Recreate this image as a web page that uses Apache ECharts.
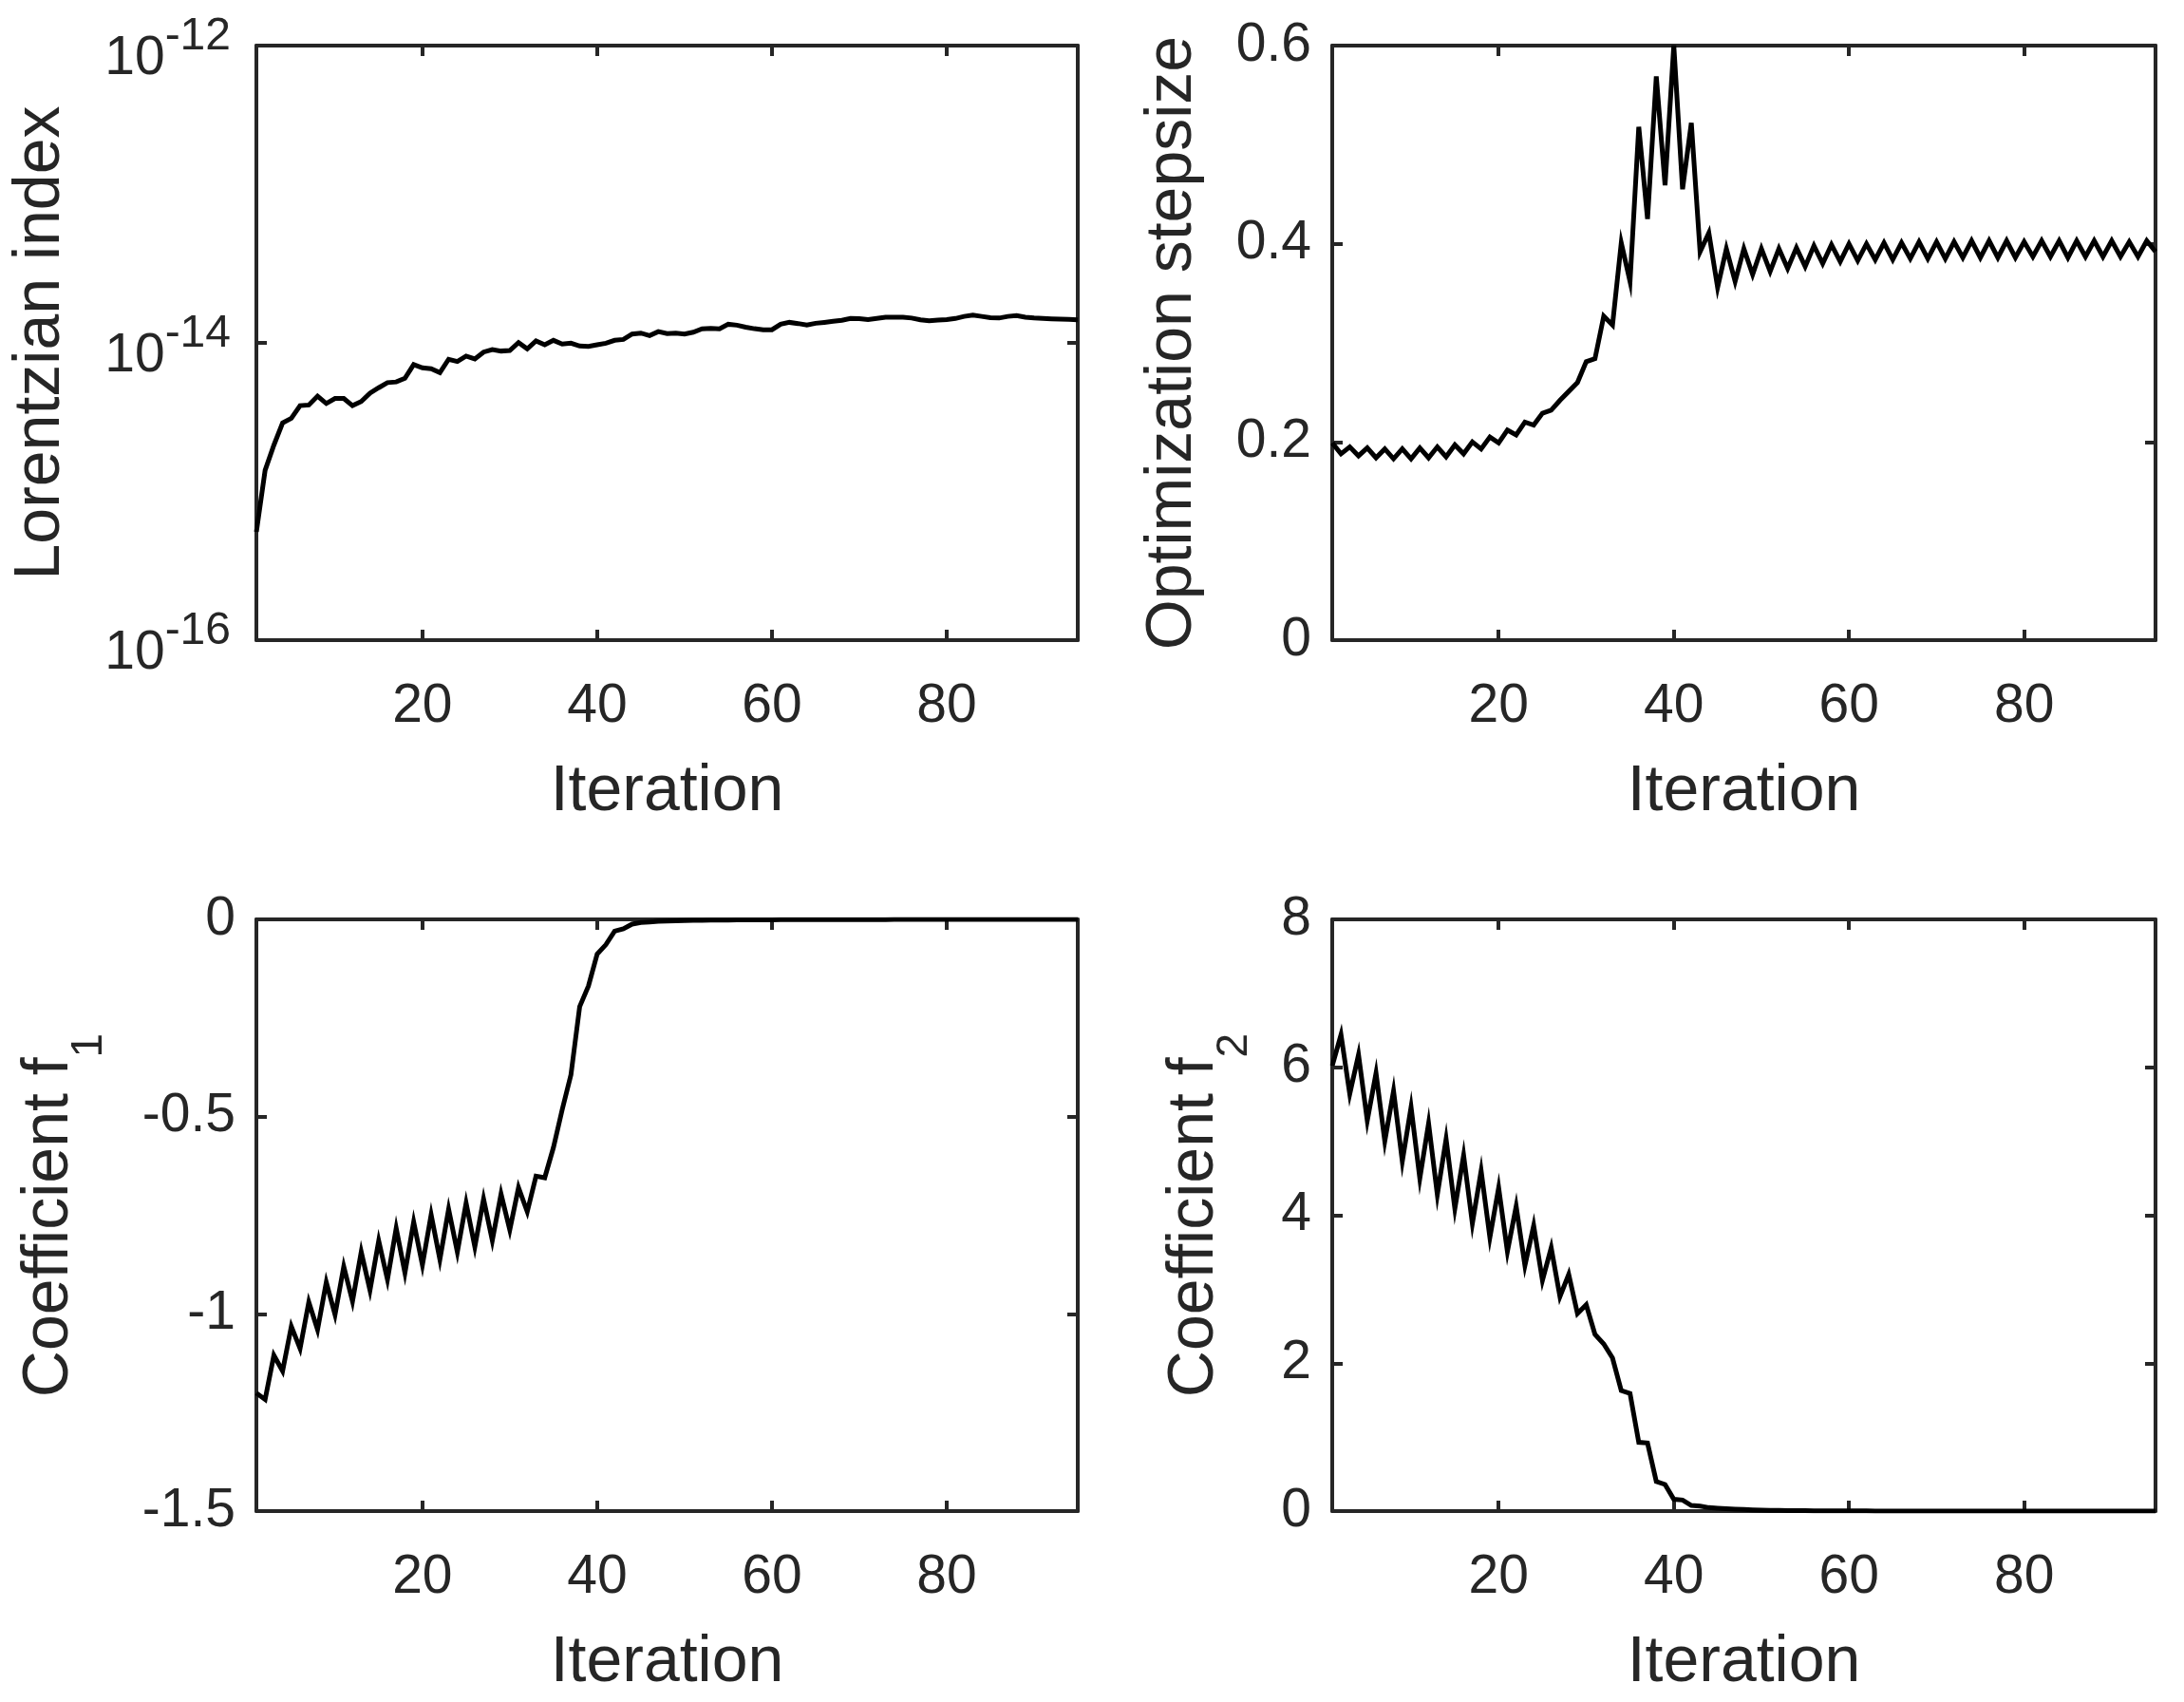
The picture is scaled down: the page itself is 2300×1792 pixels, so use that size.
<!DOCTYPE html>
<html>
<head>
<meta charset="utf-8">
<title>Optimization history</title>
<script src="https://cdn.jsdelivr.net/npm/echarts@6/dist/echarts.min.js"></script>
<style>
  html, body { margin: 0; padding: 0; background: #fff; }
  #main { width: 2300px; height: 1792px; }
</style>
</head>
<body>
<div id="main"></div>
<script>
// values, one per iteration (1..95)
var lorentz = [
  5.35e-16, 1.39e-15, 2.05e-15, 2.89e-15, 3.11e-15, 3.78e-15, 3.82e-15, 4.38e-15, 3.91e-15, 4.23e-15,
  4.23e-15, 3.78e-15, 4.03e-15, 4.59e-15, 4.99e-15, 5.40e-15, 5.46e-15, 5.78e-15, 7.14e-15, 6.79e-15,
  6.70e-15, 6.31e-15, 7.76e-15, 7.50e-15, 8.15e-15, 7.80e-15, 8.67e-15, 9.02e-15, 8.81e-15, 8.89e-15,
  1.005e-14, 9.12e-15, 1.03e-14, 9.70e-15, 1.04e-14, 9.82e-15, 9.95e-15, 9.53e-15, 9.46e-15, 9.70e-15,
  9.95e-15, 1.04e-14, 1.054e-14, 1.146e-14, 1.164e-14, 1.12e-14, 1.19e-14, 1.155e-14, 1.164e-14, 1.146e-14,
  1.18e-14, 1.242e-14, 1.25e-14, 1.242e-14, 1.334e-14, 1.315e-14, 1.276e-14, 1.245e-14, 1.225e-14, 1.225e-14,
  1.334e-14, 1.374e-14, 1.349e-14, 1.318e-14, 1.355e-14, 1.374e-14, 1.396e-14, 1.419e-14, 1.459e-14, 1.455e-14,
  1.435e-14, 1.459e-14, 1.486e-14, 1.486e-14, 1.486e-14, 1.469e-14, 1.429e-14, 1.406e-14, 1.422e-14, 1.435e-14,
  1.459e-14, 1.507e-14, 1.535e-14, 1.507e-14, 1.479e-14, 1.469e-14, 1.507e-14, 1.524e-14, 1.486e-14, 1.469e-14,
  1.459e-14, 1.452e-14, 1.445e-14, 1.439e-14, 1.429e-14
];
var stepsize = [
  0.199, 0.188, 0.195, 0.186, 0.194, 0.184, 0.193, 0.183, 0.193, 0.183,
  0.194, 0.184, 0.195, 0.185, 0.197, 0.188, 0.200, 0.193, 0.205, 0.199,
  0.212, 0.207, 0.220, 0.217, 0.229, 0.232, 0.242, 0.251, 0.260, 0.281,
  0.284, 0.327, 0.318, 0.401, 0.362, 0.518, 0.425, 0.569, 0.459, 0.600,
  0.455, 0.522, 0.392, 0.411, 0.356, 0.395, 0.362, 0.395, 0.369, 0.395,
  0.372, 0.395, 0.375, 0.396, 0.377, 0.398, 0.380, 0.399, 0.382, 0.400,
  0.383, 0.400, 0.384, 0.401, 0.384, 0.401, 0.385, 0.402, 0.385, 0.402,
  0.385, 0.402, 0.386, 0.403, 0.386, 0.403, 0.386, 0.403, 0.386, 0.402,
  0.387, 0.403, 0.387, 0.403, 0.386, 0.403, 0.387, 0.403, 0.387, 0.403,
  0.387, 0.402, 0.387, 0.403, 0.392
];
var coefF1 = [
  -1.201, -1.217, -1.105, -1.145, -1.032, -1.088, -0.970, -1.040, -0.920, -1.002,
  -0.880, -0.968, -0.843, -0.940, -0.815, -0.913, -0.783, -0.896, -0.767, -0.876,
  -0.749, -0.862, -0.735, -0.843, -0.719, -0.830, -0.709, -0.814, -0.696, -0.787,
  -0.680, -0.741, -0.651, -0.655, -0.578, -0.482, -0.394, -0.221, -0.169, -0.088,
  -0.064, -0.030, -0.024, -0.012, -0.008, -0.0065, -0.005, -0.004, -0.0035, -0.003,
  -0.0026, -0.0023, -0.002, -0.0018, -0.0016, -0.0014, -0.0013, -0.0012, -0.0011, -0.001,
  -0.0009, -0.0009, -0.0008, -0.0007, -0.0007, -0.0006, -0.0006, -0.0005, -0.0005, -0.0005,
  -0.0004, -0.0004, -0.0004, -0.0003, -0.0003, -0.0003, -0.0003, -0.0002, -0.0002, -0.0002,
  -0.0002, -0.0002, -0.0001, -0.0001, -0.0001, -0.0001, -0.0001, -0.0001, -0.0001, -0.0001,
  -0.0001, -0.0001, -0.0001, -0.0001, -0.0001
];
var coefF2 = [
  6.02, 6.44, 5.64, 6.17, 5.28, 5.92, 5.00, 5.68, 4.73, 5.46,
  4.50, 5.24, 4.28, 5.03, 4.09, 4.81, 3.89, 4.60, 3.70, 4.37,
  3.51, 4.12, 3.32, 3.86, 3.12, 3.56, 2.90, 3.20, 2.67, 2.79,
  2.39, 2.26, 2.07, 1.63, 1.59, 0.93, 0.92, 0.40, 0.36, 0.16,
  0.15, 0.077, 0.068, 0.047, 0.040, 0.032, 0.026, 0.021, 0.017, 0.014,
  0.011, 0.009, 0.007, 0.006, 0.005, 0.004, 0.0035, 0.003, 0.0026, 0.0022,
  0.002, 0.0018, 0.0016, 0.0014, 0.0012, 0.001, 0.0009, 0.0008, 0.0007, 0.0006,
  0.0005, 0.0005, 0.0004, 0.0004, 0.0003, 0.0003, 0.0003, 0.0002, 0.0002, 0.0002,
  0.0002, 0.0001, 0.0001, 0.0001, 0.0001, 0.0001, 0.0001, 0.0001, 0.0001, 0.0001,
  0.0001, 0.0001, 0.0001, 0.0001, 0.0001
];
var iterTicks = [20, 40, 60, 80];
var logExpTicks = [-16, -14, -12];   // decades labelled on the Lorentzian axis

var FONT = '"Liberation Sans", Arial, Helvetica, sans-serif';
var INK = '#262626';

function pairs(arr) {
  return arr.map(function (v, i) { return [i + 1, v]; });
}

var axisLine = { show: true, onZero: false, lineStyle: { color: INK, width: 4 } };
var tick = { show: true, inside: true, length: 11, lineStyle: { color: INK, width: 4 } };
var tickLabel = { color: INK, fontFamily: FONT, fontSize: 57 };
var nameStyle = { color: INK, fontFamily: FONT, fontSize: 68, verticalAlign: 'middle' };

function xAxes(grid) {
  return [{
    type: 'value', gridIndex: grid, position: 'bottom', min: 1, max: 95,
    axisLine: axisLine,
    axisTick: Object.assign({ customValues: iterTicks }, tick),
    axisLabel: Object.assign({ customValues: iterTicks, margin: 70, verticalAlign: 'middle' }, tickLabel),
    splitLine: { show: false },
    name: 'Iteration', nameLocation: 'middle', nameGap: 160, nameTextStyle: nameStyle
  }, {
    type: 'value', gridIndex: grid, position: 'top', min: 1, max: 95,
    axisLine: axisLine,
    axisTick: Object.assign({ customValues: iterTicks }, tick),
    axisLabel: { show: false },
    splitLine: { show: false }
  }];
}

function yPair(grid, min, max, interval, name, gap, rich) {
  var left = {
    type: 'value', gridIndex: grid, position: 'left', min: min, max: max, interval: interval,
    axisLine: axisLine, axisTick: tick,
    axisLabel: Object.assign({ margin: 22 }, tickLabel),
    splitLine: { show: false },
    name: name, nameLocation: 'middle', nameRotate: 90, nameGap: gap,
    nameTextStyle: Object.assign({ rich: rich || {} }, nameStyle)
  };
  var right = {
    type: 'value', gridIndex: grid, position: 'right', min: min, max: max, interval: interval,
    axisLine: axisLine, axisTick: tick, axisLabel: { show: false }, splitLine: { show: false }
  };
  return [left, right];
}

function subRich(shift) {
  return {
    n: { fontFamily: FONT, fontSize: 68, color: INK },
    s: { fontFamily: FONT, fontSize: 46, color: INK, padding: [shift * 2, 0, 0, 0] }
  };
}

var chart = echarts.init(document.getElementById('main'), null, { renderer: 'canvas' });

var lorentzAxes = [{
  // log scale that carries the series
  type: 'log', logBase: 10, gridIndex: 0, position: 'left', min: 1e-16, max: 1e-12,
  axisLine: axisLine, axisTick: { show: false }, axisLabel: { show: false },
  splitLine: { show: false }, minorTick: { show: false }
}, {
  // decade labels 10^-16 .. 10^-12 on the same span
  type: 'value', gridIndex: 0, position: 'left',
  min: logExpTicks[0], max: logExpTicks[logExpTicks.length - 1], interval: 2,
  axisLine: { show: false }, axisTick: tick, splitLine: { show: false },
  axisLabel: {
    margin: 27,
    formatter: function (v) { return '{b|10}{s|' + v + '}'; },
    rich: {
      b: { fontFamily: FONT, fontSize: 57, color: INK, padding: [28, 0, 0, 0] },
      s: { fontFamily: FONT, fontSize: 48, color: INK, padding: [0, 0, 18, 0] }
    }
  },
  name: 'Lorentzian index', nameLocation: 'middle', nameRotate: 90, nameGap: 227,
  nameTextStyle: nameStyle
}, {
  type: 'value', gridIndex: 0, position: 'right',
  min: logExpTicks[0], max: logExpTicks[logExpTicks.length - 1], interval: 2,
  axisLine: axisLine, axisTick: tick, axisLabel: { show: false }, splitLine: { show: false }
}];

var yAll = lorentzAxes
  .concat(yPair(1, 0, 0.6, 0.2, 'Optimization stepsize', 168))
  .concat(yPair(2, -1.5, 0, 0.5, '{n|Coefficient f}{s|1}', 218, subRich(42)))
  .concat(yPair(3, 0, 8, 2, '{n|Coefficient f}{s|2}', 145, subRich(42)));

var lineStyle = { color: '#000', width: 5, join: 'miter', cap: 'butt' };
function line(data, xi, yi) {
  return {
    type: 'line', data: pairs(data), xAxisIndex: xi, yAxisIndex: yi,
    showSymbol: false, symbol: 'none', lineStyle: lineStyle, silent: true, clip: true
  };
}

var option = {
  animation: false,
  backgroundColor: '#fff',
  textStyle: { fontFamily: FONT },
  grid: [
    { left: 270, top: 48, width: 865, height: 626 },
    { left: 1403, top: 48, width: 867, height: 626 },
    { left: 270, top: 968, width: 865, height: 623 },
    { left: 1403, top: 968, width: 867, height: 623 }
  ],
  xAxis: xAxes(0).concat(xAxes(1), xAxes(2), xAxes(3)),
  yAxis: yAll,
  series: [
    line(lorentz, 0, 0),
    line(stepsize, 2, 3),
    line(coefF1, 4, 5),
    line(coefF2, 6, 7)
  ]
};
chart.setOption(option);
</script>
</body>
</html>
